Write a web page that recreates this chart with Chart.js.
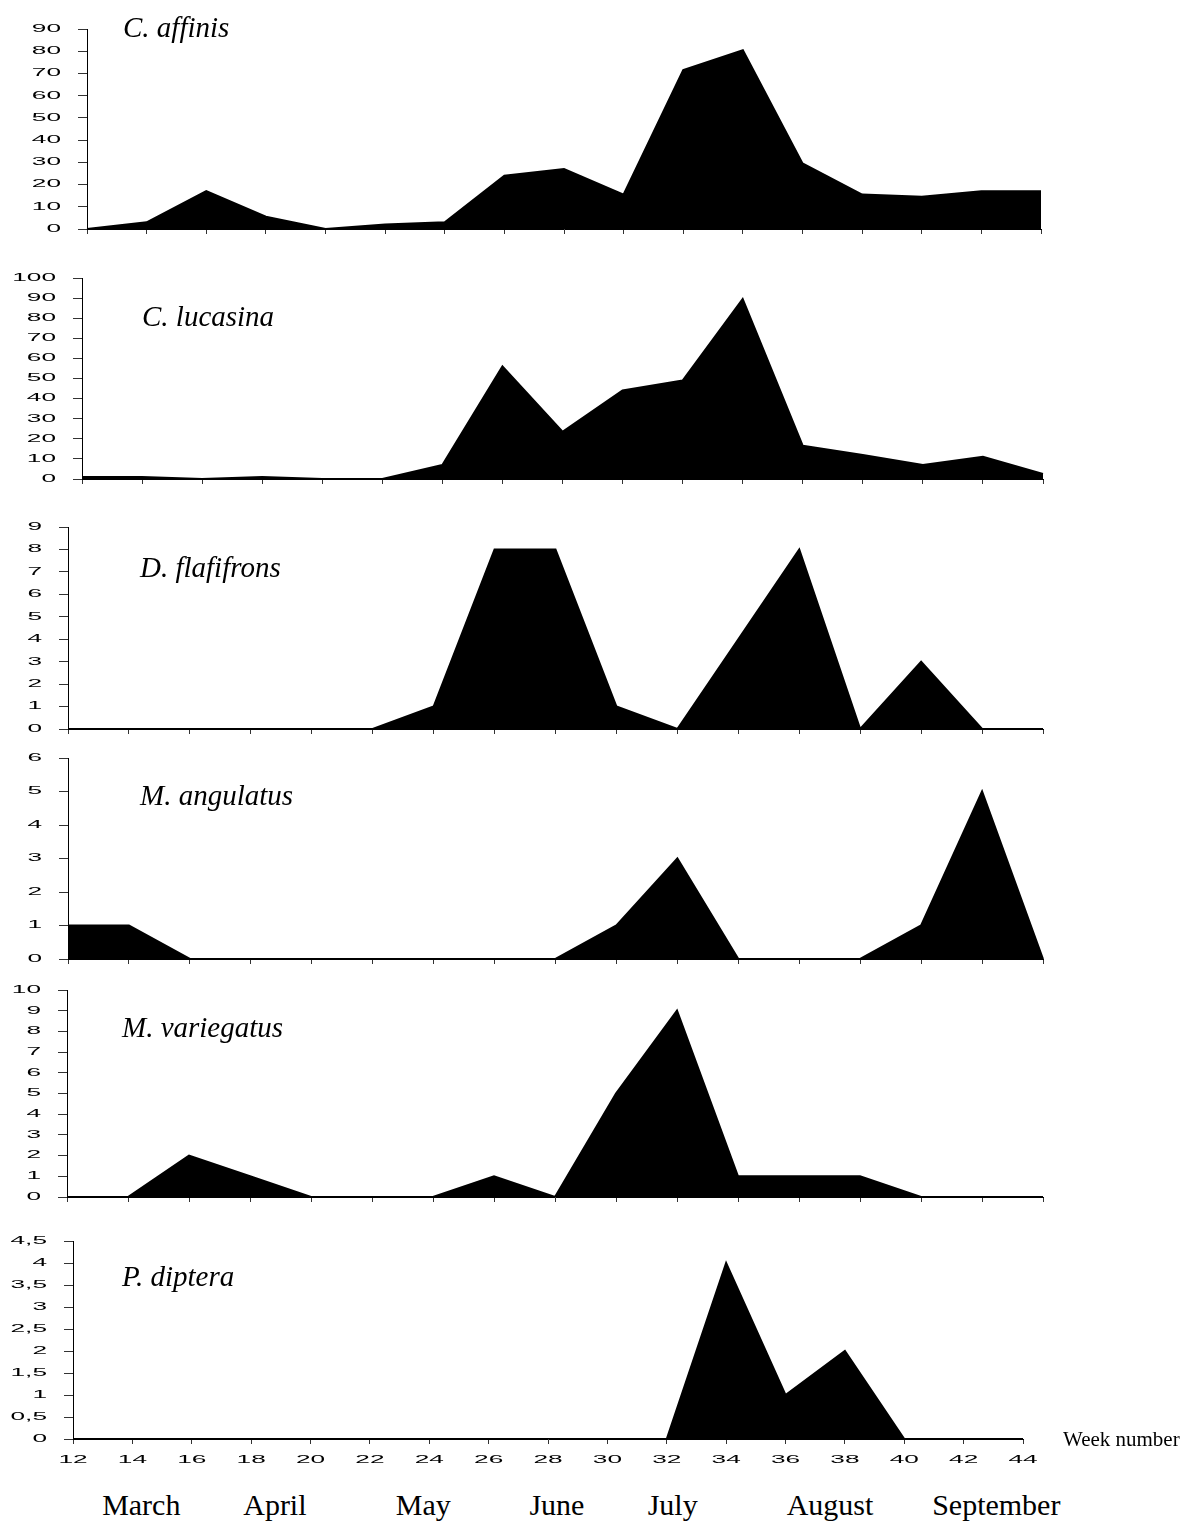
<!DOCTYPE html>
<html lang="en">
<head>
  <meta charset="UTF-8">
  <title>Weekly catches</title>
  <script src="https://cdn.jsdelivr.net/npm/chart.js"></script>
  <style>
    body { margin: 0; background: #fff; }
    #page { position: relative; width: 1187px; height: 1524px; overflow: hidden; }
    .panel { position: absolute; left: 0; }
    .title { position: absolute; font: italic 29px "Liberation Serif", serif; line-height: 29px; white-space: nowrap; color: #000; }
    .month { position: absolute; font: 30px "Liberation Serif", serif; line-height: 30px; white-space: nowrap; transform: translateX(-50%); color: #000; }
    .wk { position: absolute; font: 21px "Liberation Serif", serif; line-height: 21px; white-space: nowrap; color: #000; }
  </style>
</head>
<body>
<div id="page"></div>

<script>
  // week numbers on the x axis
  const weeks = [12, 14, 16, 18, 20, 22, 24, 26, 28, 30, 32, 34, 36, 38, 40, 42, 44];

  // species, one panel each
  const species = ['C. affinis', 'C. lucasina', 'D. flafifrons', 'M. angulatus', 'M. variegatus', 'P. diptera'];

  const cAffinis     = [0, 3, 17, 5.5, 0, 2, 3, 24, 27, 15.5, 71.5, 80.5, 29.5, 15.5, 14.5, 17, 17];
  const cLucasina    = [1, 1, 0, 1, 0, 0, 7, 56, 23.5, 44, 49, 89.5, 16.5, 12, 7, 11, 2.5];
  const dFlafifrons  = [0, 0, 0, 0, 0, 0, 1, 8, 8, 1, 0, 4, 8, 0, 3, 0, 0];
  const mAngulatus   = [1, 1, 0, 0, 0, 0, 0, 0, 0, 1, 3, 0, 0, 0, 1, 5, 0];
  const mVariegatus  = [0, 0, 2, 1, 0, 0, 0, 1, 0, 5, 9, 1, 1, 1, 0, 0, 0];
  const pDiptera     = [0, 0, 0, 0, 0, 0, 0, 0, 0, 0, 0, 4, 1, 2, 0, 0, 0];

  const series = [cAffinis, cLucasina, dFlafifrons, mAngulatus, mVariegatus, pDiptera];

  // y axis range per panel
  const yMax  = [90, 100, 9, 6, 10, 4.5];
  const yStep = [10, 10, 1, 1, 1, 0.5];

  // months under the last panel, placed at these week numbers
  const months = ['March', 'April', 'May', 'June', 'July', 'August', 'September'];
  const monthWeeks = [14.3, 18.8, 23.8, 28.3, 32.2, 37.5, 43.1];

  // page layout (plot area edges in px), not data
  const boxes = [
    { left: 87, right: 1041, top: 29,   bottom: 229,  tx: 123, tb: 37 },
    { left: 82, right: 1043, top: 278,  bottom: 479,  tx: 142, tb: 326 },
    { left: 68, right: 1043, top: 527,  bottom: 729,  tx: 140, tb: 577 },
    { left: 68, right: 1043, top: 758,  bottom: 959,  tx: 140, tb: 805 },
    { left: 67, right: 1043, top: 990,  bottom: 1197, tx: 122, tb: 1037 },
    { left: 73, right: 1023, top: 1241, bottom: 1439, tx: 122, tb: 1286 }
  ];

  const PAGE_W = 1187;
  const PAD_TOP = 12;
  const STRETCH = 2.5; // the tick font in the original is very wide
  const TICK_FONT = '10.5px "Liberation Sans", Arial, sans-serif';

  // tick labels drawn with the scale's own ticks, stretched sideways
  const wideTicks = {
    id: 'wideTicks',
    afterDraw(chart, args, opts) {
      const ctx = chart.ctx;
      const ys = chart.scales.y;
      const xs = chart.scales.x;
      ctx.save();
      ctx.fillStyle = '#000';
      ctx.font = TICK_FONT;
      ctx.textBaseline = 'middle';

      ctx.textAlign = 'right';
      const ax = chart.chartArea.left - 26;
      ys.ticks.forEach(t => {
        const py = ys.getPixelForValue(t.value);
        ctx.save();
        ctx.translate(ax, py);
        ctx.scale(STRETCH, 1);
        ctx.fillText(String(t.value).replace('.', ','), 0, 0);
        ctx.restore();
      });

      if (opts.showX) {
        ctx.textAlign = 'center';
        const py = chart.chartArea.bottom + 21;
        xs.ticks.forEach((t, i) => {
          const px = xs.getPixelForTick(i);
          ctx.save();
          ctx.translate(px, py);
          ctx.scale(STRETCH, 1);
          ctx.fillText(xs.getLabelForValue(t.value), 0, 0);
          ctx.restore();
        });
      }
      ctx.restore();
    }
  };

  const page = document.getElementById('page');
  const charts = [];

  series.forEach((values, i) => {
    const b = boxes[i];
    const last = i === series.length - 1;
    const xh = last ? 32 : 10;
    const h = PAD_TOP + (b.bottom - b.top) + xh;

    const wrap = document.createElement('div');
    wrap.className = 'panel';
    wrap.style.top = (b.top - PAD_TOP) + 'px';
    const canvas = document.createElement('canvas');
    canvas.width = PAGE_W;
    canvas.height = h;
    wrap.appendChild(canvas);
    page.appendChild(wrap);

    const chart = new Chart(canvas.getContext('2d'), {
      type: 'line',
      data: {
        labels: weeks.map(String),
        datasets: [{
          label: species[i],
          data: values,
          fill: 'origin',
          backgroundColor: '#000',
          borderColor: '#000',
          borderWidth: 2,
          pointRadius: 0,
          tension: 0
        }]
      },
      options: {
        responsive: false,
        animation: false,
        devicePixelRatio: 1,
        layout: { padding: { left: 0, right: PAGE_W - b.right, top: PAD_TOP, bottom: 0 } },
        plugins: {
          legend: { display: false },
          tooltip: { enabled: false },
          wideTicks: { showX: last }
        },
        scales: {
          x: {
            offset: false,
            grid: { drawOnChartArea: false, drawTicks: true, tickLength: 5, color: '#333', lineWidth: 1, offset: false },
            border: { display: true, color: '#000', width: 1 },
            ticks: { display: false },
            afterFit: s => { s.height = xh; }
          },
          y: {
            min: 0,
            max: yMax[i],
            grid: { drawOnChartArea: false, drawTicks: true, tickLength: 9, color: '#333', lineWidth: 1 },
            border: { display: true, color: '#000', width: 1 },
            ticks: { display: false, stepSize: yStep[i] },
            afterFit: s => { s.width = b.left; }
          }
        }
      },
      plugins: [wideTicks]
    });
    charts.push(chart);

    const t = document.createElement('div');
    t.className = 'title';
    t.textContent = species[i];
    t.style.left = b.tx + 'px';
    t.style.top = (b.tb - 24) + 'px';
    page.appendChild(t);
  });

  // month names, placed with the bottom panel's week scale
  const lastChart = charts[charts.length - 1];
  const xs = lastChart.scales.x;
  months.forEach((m, i) => {
    const d = document.createElement('div');
    d.className = 'month';
    d.textContent = m;
    d.style.left = xs.getPixelForValue((monthWeeks[i] - weeks[0]) / 2) + 'px';
    d.style.top = (1515 - 25) + 'px';
    page.appendChild(d);
  });

  const wk = document.createElement('div');
  wk.className = 'wk';
  wk.textContent = 'Week number';
  wk.style.left = '1063px';
  wk.style.top = (1446 - 17) + 'px';
  page.appendChild(wk);
</script>
</body>
</html>
